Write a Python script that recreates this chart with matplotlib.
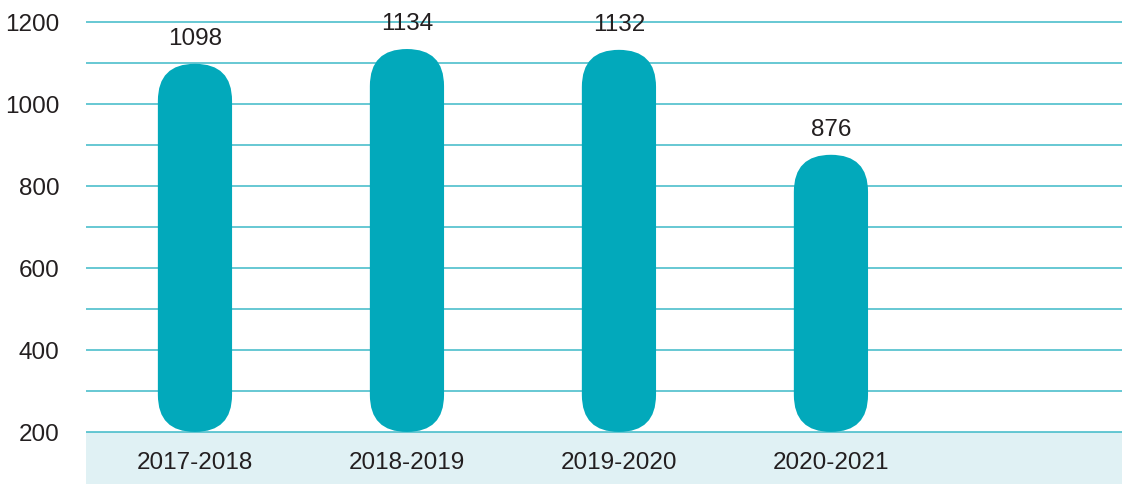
import matplotlib.pyplot as plt
from matplotlib.patches import FancyBboxPatch

plt.rcParams['font.family'] = ['Liberation Sans', 'DejaVu Sans']

# data
seasons = ['2017-2018', '2018-2019', '2019-2020', '2020-2021']
values = [1098, 1134, 1132, 876]
y_ticks = [200, 400, 600, 800, 1000, 1200]
base = 200

bar_color = '#02A9BB'
grid_color = '#3DB9C7'
band_color = '#E0F1F4'
text_color = '#231F20'

fig = plt.figure(figsize=(11.22, 4.85), dpi=100)
ax = fig.add_axes([86 / 1122, 0, 1 - 86 / 1122, 1])

ymin, ymax = 73, 1256
xmin, xmax = -0.514, 4.373
ax.set_xlim(xmin, xmax)
ax.set_ylim(ymin, ymax)

# bottom band with the category labels
ax.axhspan(ymin, base, color=band_color, zorder=0, lw=0)

# gridlines every 100
for g in range(200, 1201, 100):
    ax.axhline(g, color=grid_color, lw=1.1, zorder=1)

# rounded bars
width = 0.35
ax_w_px = 1122 - 86
ax_h_px = 485
x_per_px = (xmax - xmin) / ax_w_px
y_per_px = (ymax - ymin) / ax_h_px
aspect = y_per_px / x_per_px
for i, v in enumerate(values):
    box = FancyBboxPatch((i - width / 2, base), width, v - base,
                         boxstyle=f"round,pad=0,rounding_size={width / 2}",
                         mutation_aspect=aspect,
                         fc=bar_color, ec='none', zorder=2)
    ax.add_patch(box)
    ax.text(i, v + 64, str(v), ha='center', va='center',
            fontsize=17.5, color=text_color, zorder=3)

for i, s in enumerate(seasons):
    ax.text(i, 127, s, ha='center', va='center', fontsize=17.5, color=text_color)

ax.set_xticks([])
ax.set_yticks(y_ticks)
ax.set_yticklabels([str(t) for t in y_ticks], fontsize=17.5, color=text_color)
ax.tick_params(axis='y', length=0, pad=19)
for sp in ax.spines.values():
    sp.set_visible(False)

fig.savefig('out.png', dpi=100)
